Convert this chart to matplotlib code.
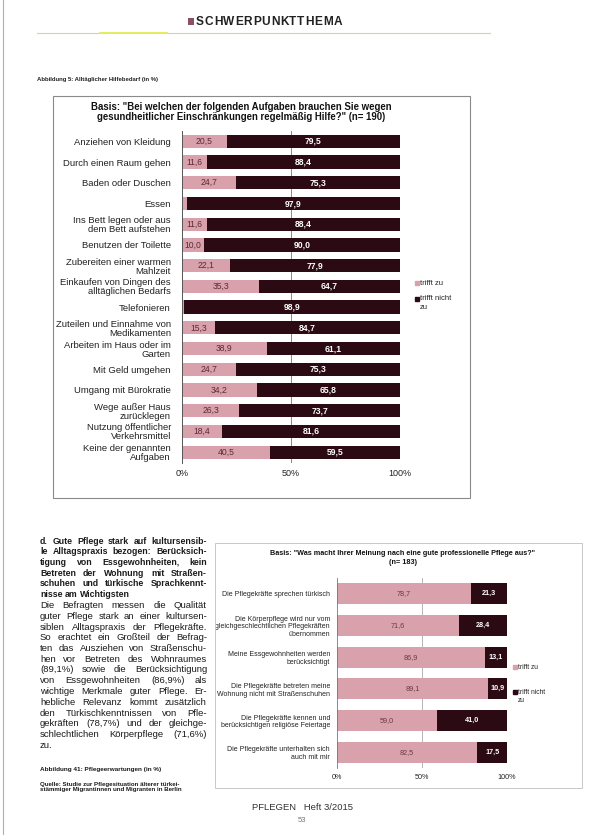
import matplotlib
matplotlib.use("Agg")
import matplotlib.pyplot as plt
from matplotlib.patches import Rectangle
from matplotlib.lines import Line2D

plt.rcParams['font.family'] = ['Liberation Sans', 'DejaVu Sans']

# ---------------- data ----------------
cats1 = ["Anziehen von Kleidung", "Durch einen Raum gehen", "Baden oder Duschen", "Essen",
         "Ins Bett legen oder aus\ndem Bett aufstehen", "Benutzen der Toilette",
         "Zubereiten einer warmen\nMahlzeit", "Einkaufen von Dingen des\nalltäglichen Bedarfs",
         "Telefonieren", "Zuteilen und Einnahme von\nMedikamenten",
         "Arbeiten im Haus oder im\nGarten", "Mit Geld umgehen", "Umgang mit Bürokratie",
         "Wege außer Haus\nzurücklegen", "Nutzung öffentlicher\nVerkehrsmittel",
         "Keine der genannten\nAufgaben"]
zu1 = [20.5, 11.6, 24.7, 2.1, 11.6, 10.0, 22.1, 35.3, 1.1, 15.3, 38.9, 24.7, 34.2, 26.3, 18.4, 40.5]
nicht1 = [79.5, 88.4, 75.3, 97.9, 88.4, 90.0, 77.9, 64.7, 98.9, 84.7, 61.1, 75.3, 65.8, 73.7, 81.6, 59.5]

cats2 = ["Die Pflegekräfte sprechen türkisch",
         "Die Körperpflege wird nur vom\ngleichgeschlechtlichen Pflegekräften\nübernommen",
         "Meine Essgewohnheiten werden\nberücksichtigt",
         "Die Pflegekräfte betreten meine\nWohnung nicht mit Straßenschuhen",
         "Die Pflegekräfte kennen und\nberücksichtigen religiöse Feiertage",
         "Die Pflegekräfte unterhalten sich\nauch mit mir"]
zu2 = [78.7, 71.6, 86.9, 89.1, 59.0, 82.5]
nicht2 = [21.3, 28.4, 13.1, 10.9, 41.0, 17.5]

ticks = [0, 50, 100]
tick_labels = ["0%", "50%", "100%"]
legend_labels = ["trifft zu", "trifft nicht\nzu"]

title1 = ('Basis: "Bei welchen der folgenden Aufgaben brauchen Sie wegen\n'
          'gesundheitlicher Einschränkungen regelmäßig Hilfe?" (n= 190)')
title2 = 'Basis: "Was macht Ihrer Meinung nach eine gute professionelle Pflege aus?"\n(n= 183)'

para_bold = ["d. Gute Pflege stark auf kultursensib-",
             "le Alltagspraxis bezogen: Berücksich-",
             "tigung von Essgewohnheiten, kein",
             "Betreten der Wohnung mit Straßen-",
             "schuhen und türkische Sprachkennt-",
             "nisse am Wichtigsten"]
para_reg = ["Die Befragten messen die Qualität",
            "guter Pflege stark an einer kultursen-",
            "siblen Alltagspraxis der Pflegekräfte.",
            "So erachtet ein Großteil der Befrag-",
            "ten das Ausziehen von Straßenschu-",
            "hen vor Betreten des Wohnraumes",
            "(89,1%) sowie die Berücksichtigung",
            "von Essgewohnheiten (86,9%) als",
            "wichtige Merkmale guter Pflege. Er-",
            "hebliche Relevanz kommt zusätzlich",
            "den Türkischkenntnissen von Pfle-",
            "gekräften (78,7%) und der gleichge-",
            "schlechtlichen Körperpflege (71,6%)",
            "zu."]

PINK = "#d9a1ab"
DARK = "#2b0a13"

W, H = 597, 835
fig = plt.figure(figsize=(W / 100, H / 100), dpi=100)
fig.patch.set_facecolor("white")
renderer = fig.canvas.get_renderer()


def fx(x):
    return x / W


def fy(y):
    return 1 - y / H


def ax_px(x0, y0, x1, y1):
    return fig.add_axes([fx(x0), fy(y1), fx(x1) - fx(x0), fy(y0) - fy(y1)])


def fmt(v):
    return f"{v:.1f}".replace(".", ",")


def measure(s, fs, weight):
    t = fig.text(0, 0, s, fontsize=fs, fontweight=weight)
    w = t.get_window_extent(renderer=renderer).width * W / fig.bbox.width
    t.remove()
    return w


# ---------------- header ----------------
fig.add_artist(Rectangle((fx(188), fy(25)), fx(6) - fx(0), fy(0) - fy(7),
                         transform=fig.transFigure, color="#8b4f66", lw=0))
hdr = "SCHWERPUNKTTHEMA"
HFS = 8.6
cw = [measure(ch, HFS, "bold") for ch in hdr]
track = (342 - 196 - sum(cw)) / (len(hdr) - 1)
xh = 196
for ch, w in zip(hdr, cw):
    fig.text(fx(xh), fy(22), ch, fontsize=HFS, fontweight="bold",
             color="#222222", va="center", ha="left")
    xh += w + track
fig.add_artist(Line2D([fx(37), fx(490)], [fy(33), fy(33)], transform=fig.transFigure,
                      color="#cfd79a", lw=0.8))
fig.add_artist(Line2D([fx(100), fx(167)], [fy(33), fy(33)], transform=fig.transFigure,
                      color="#e4ec60", lw=1.4))
fig.add_artist(Line2D([fx(3), fx(3)], [fy(0), fy(835)], transform=fig.transFigure,
                      color="#b0b0b0", lw=0.8))
fig.text(fx(37), fy(79), "Abbildung 5: Alltäglicher Hilfebedarf (in %)", fontsize=4.3,
         fontweight="bold", color="#222222", va="center")

# ---------------- chart 1 ----------------
fig.add_artist(Rectangle((fx(53), fy(498)), fx(470) - fx(53), fy(96) - fy(498),
                         transform=fig.transFigure, fill=False, edgecolor="#8a8a8a", lw=0.8))
fig.text(fx(241), fy(112), title1, fontsize=6.9, fontweight="bold", ha="center", va="center",
         linespacing=1.1, color="#111111")

n1 = len(cats1)
ax1 = ax_px(182, 131, 400, 462.5)
ypos1 = list(range(n1))
ax1.barh(ypos1, zu1, height=0.64, color=PINK, edgecolor="none")
ax1.barh(ypos1, nicht1, left=zu1, height=0.64, color=DARK, edgecolor="none")
for i in range(n1):
    if zu1[i] >= 5:
        ax1.text(zu1[i] / 2, i, fmt(zu1[i]), ha="center", va="center", fontsize=6.2,
                 color="#5a2a34")
    ax1.text(zu1[i] + nicht1[i] / 2, i, fmt(nicht1[i]), ha="center", va="center",
             fontsize=6.2, color="white", fontweight="bold")
ax1.set_xlim(0, 100)
ax1.set_ylim(n1 - 0.5, -0.5)
ax1.set_yticks(ypos1)
ax1.set_yticklabels(cats1, fontsize=6.8, linespacing=1.0, color="#222222")
ax1.set_xticks(ticks)
ax1.set_xticklabels(tick_labels, fontsize=6.5, color="#222222")
ax1.tick_params(length=0, pad=5)
ax1.tick_params(axis="y", pad=8)
for s in ["top", "right", "bottom"]:
    ax1.spines[s].set_visible(False)
ax1.spines["left"].set_color("#555555")
ax1.spines["left"].set_linewidth(0.7)
ax1.axvline(50, color="#888888", lw=0.7, zorder=0)
ax1.set_axisbelow(True)

# legend 1
for lbl, col, yy in zip(legend_labels, [PINK, DARK], [283, 299]):
    fig.add_artist(Line2D([fx(417)], [fy(yy)], marker="s", markersize=2.6, color=col,
                          transform=fig.transFigure, lw=0))
    fig.text(fx(420), fy(yy - 3.5), lbl, fontsize=5.5, va="top", ha="left",
             linespacing=1.3, color="#222222")

# ---------------- chart 2 ----------------
fig.add_artist(Rectangle((fx(215), fy(788)), fx(582) - fx(215), fy(543) - fy(788),
                         transform=fig.transFigure, fill=False, edgecolor="#c8c8c8", lw=0.7))
fig.text(fx(403), fy(558), title2, fontsize=5.2, fontweight="bold", ha="center", va="center",
         linespacing=1.25, color="#111111")

n2 = len(cats2)
ax2 = ax_px(337, 578, 507, 768)
ypos2 = list(range(n2))
ax2.barh(ypos2, zu2, height=0.66, color=PINK, edgecolor="none")
ax2.barh(ypos2, nicht2, left=zu2, height=0.66, color=DARK, edgecolor="none")
for i in range(n2):
    ax2.text(zu2[i] / 2, i, fmt(zu2[i]), ha="center", va="center", fontsize=5.2,
             color="#6a3a44")
    ax2.text(zu2[i] + nicht2[i] / 2, i, fmt(nicht2[i]), ha="center", va="center",
             fontsize=5.2, color="white", fontweight="bold")
ax2.set_xlim(0, 100)
ax2.set_ylim(n2 - 0.5, -0.5)
ax2.set_yticks(ypos2)
ax2.set_yticklabels(cats2, fontsize=5.0, linespacing=1.15, color="#222222")
ax2.set_xticks(ticks)
ax2.set_xticklabels(tick_labels, fontsize=5.2, color="#222222")
ax2.tick_params(length=0, pad=4)
ax2.tick_params(axis="y", pad=5)
for s in ["top", "right", "bottom"]:
    ax2.spines[s].set_visible(False)
ax2.spines["left"].set_color("#777777")
ax2.spines["left"].set_linewidth(0.6)
ax2.axvline(50, color="#aaaaaa", lw=0.6, zorder=0)
ax2.set_axisbelow(True)

for lbl, col, yy in zip(legend_labels, [PINK, DARK], [667, 692]):
    fig.add_artist(Line2D([fx(515)], [fy(yy)], marker="s", markersize=2.2, color=col,
                          transform=fig.transFigure, lw=0))
    fig.text(fx(518), fy(yy - 3), lbl, fontsize=4.8, va="top", ha="left",
             linespacing=1.3, color="#222222")

# ---------------- paragraph (justified) ----------------
X0, X1 = 40, 207
LINE_Y0, DY = 541, 10.75


def place_line(words, y, weight, fs, justify):
    widths = [measure(w, fs, weight) for w in words]
    sp = measure("a a", fs, weight) - measure("aa", fs, weight)
    if justify and len(words) > 1:
        gap = (X1 - X0 - sum(widths)) / (len(words) - 1)
        gap = max(gap, sp * 0.6)
    else:
        gap = sp
    x = X0
    for w, wd in zip(words, widths):
        fig.text(fx(x), fy(y), w, fontsize=fs, fontweight=weight, va="center", ha="left",
                 color="#1a1a1a")
        x += wd + gap


lines = [(l, "bold", 6.3) for l in para_bold] + [(l, "normal", 6.8) for l in para_reg]
for i, (line, wt, fs) in enumerate(lines):
    last = (i == len(para_bold) - 1) or (i == len(lines) - 1)
    place_line(line.split(" "), LINE_Y0 + i * DY, wt, fs, not last)

fig.text(fx(40), fy(769), "Abbildung 41: Pflegeerwartungen (in %)", fontsize=4.6,
         fontweight="bold", va="center", color="#1a1a1a")
fig.text(fx(40), fy(787), "Quelle: Studie zur Pflegesituation älterer türkei-\n"
         "stämmiger Migrantinnen und Migranten in Berlin", fontsize=4.4,
         fontweight="bold", va="center", linespacing=1.2, color="#1a1a1a")

# ---------------- footer ----------------
fig.text(fx(302), fy(808), "PFLEGEN   Heft 3/2015", fontsize=6.8, ha="center", va="center",
         color="#333333")
fig.text(fx(302), fy(821), "53", fontsize=5.5, ha="center", va="center", color="#777777")

fig.savefig("out.png", dpi=100, facecolor="white")
